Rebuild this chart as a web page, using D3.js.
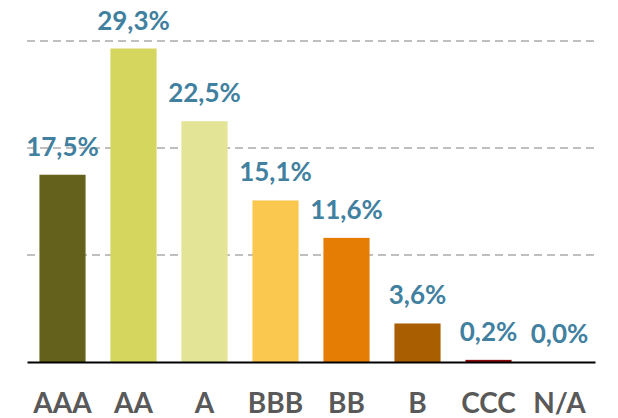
<!DOCTYPE html>
<html>
<head>
<meta charset="utf-8">
<script src="https://cdn.jsdelivr.net/npm/d3@7"></script>
<style>
  html, body { margin: 0; padding: 0; background: #fff; }
  #chart { width: 618px; height: 418px; }
</style>
</head>
<body>
<div id="chart"></div>
<script>
(() => {
  // ------- data -------
  const categories = ["AAA", "AA", "A", "BBB", "BB", "B", "CCC", "N/A"];
  const values = [17.5, 29.3, 22.5, 15.1, 11.6, 3.6, 0.2, 0.0];
  const barColors = ["#63611B", "#D5D65D", "#E3E496", "#FAC74F", "#E57D05", "#AA5E02", "#8B0A0A", "#8B0A0A"];
  const gridTicks = [10, 20, 30];

  const width = 618, height = 418;
  const margin = { top: 41, right: 23, bottom: 56, left: 27 };
  const w = width - margin.left - margin.right;
  const h = height - margin.top - margin.bottom;

  const fmt = v => v.toFixed(1).replace(".", ",") + "%";

  const svg = d3.select("#chart")
    .append("svg")
    .attr("width", width)
    .attr("height", height);

  const g = svg.append("g").attr("transform", `translate(${margin.left},${margin.top})`);

  const x = d3.scaleBand()
    .domain(categories)
    .range([0, w])
    .paddingInner(0.35)
    .paddingOuter(0.175);

  const y = d3.scaleLinear()
    .domain([0, 30])
    .range([h, 0]);

  // dashed gridlines
  g.append("g")
    .selectAll("line")
    .data(gridTicks)
    .enter()
    .append("line")
    .attr("x1", 0).attr("x2", w)
    .attr("y1", d => y(d)).attr("y2", d => y(d))
    .attr("stroke", "#BFBFBF")
    .attr("stroke-width", 2)
    .attr("stroke-dasharray", "8,5");

  // bars
  g.selectAll("rect.bar")
    .data(values)
    .enter()
    .append("rect")
    .attr("class", "bar")
    .attr("x", (d, i) => x(categories[i]))
    .attr("y", d => y(d))
    .attr("width", x.bandwidth())
    .attr("height", d => h - y(d))
    .attr("fill", (d, i) => barColors[i]);

  // baseline axis
  const xAxis = d3.axisBottom(x).tickSize(0).tickPadding(0);
  g.append("g")
    .attr("transform", `translate(0,${h})`)
    .call(xAxis)
    .call(a => a.select(".domain").attr("stroke", "#000").attr("stroke-width", 2))
    .call(a => a.selectAll("text")
      .attr("dy", null)
      .attr("y", 51)
      .attr("fill", "#595959")
      .style("font-family", "Lato, 'Open Sans', sans-serif")
      .style("font-weight", "bold")
      .style("font-size", "28px"));

  // value labels
  g.selectAll("text.val")
    .data(values)
    .enter()
    .append("text")
    .attr("class", "val")
    .attr("x", (d, i) => x(categories[i]) + x.bandwidth() / 2)
    .attr("y", d => y(d) - 19)
    .attr("text-anchor", "middle")
    .attr("fill", "#41809F")
    .style("font-family", "Lato, 'Open Sans', sans-serif")
    .style("font-weight", "bold")
    .style("font-size", "26px")
    .text(d => fmt(d));
})();
</script>
</body>
</html>
